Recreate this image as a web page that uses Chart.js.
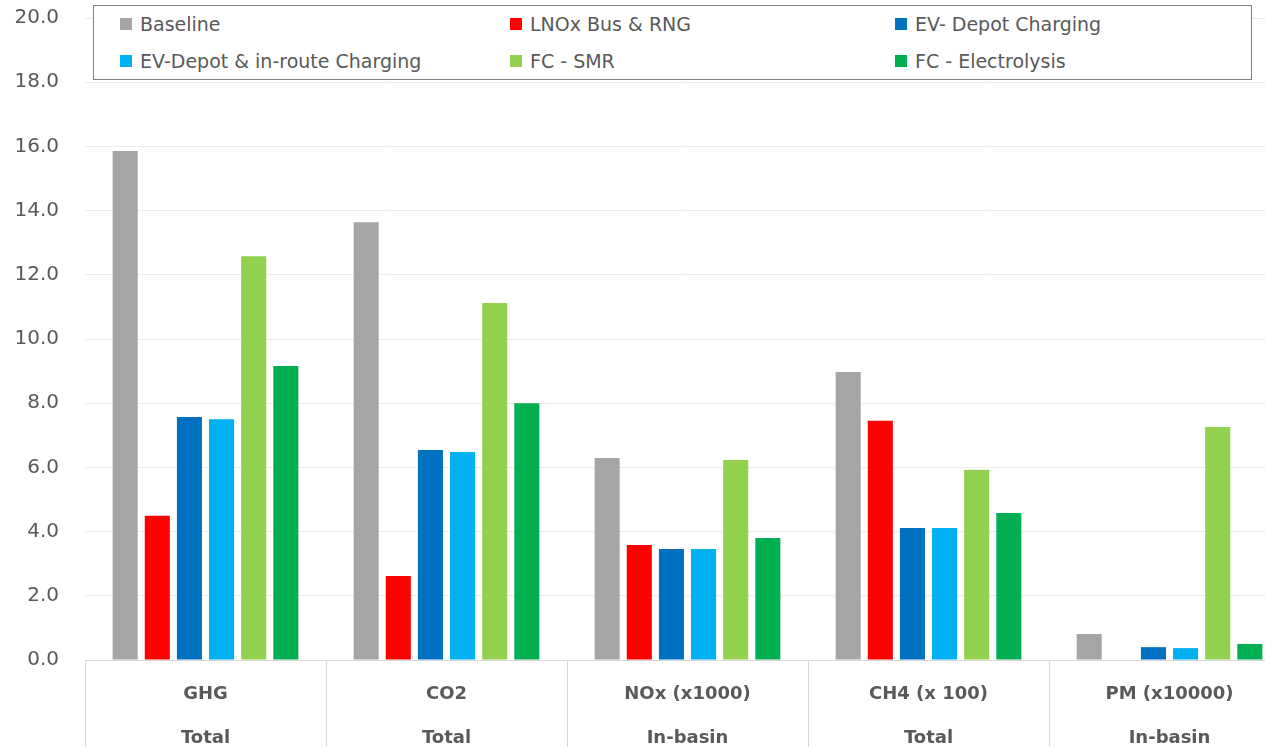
<!DOCTYPE html>
<html>
<head>
<meta charset="utf-8">
<script src="https://cdn.jsdelivr.net/npm/chart.js@4.4.1/dist/chart.umd.min.js"></script>
<style>
  body { margin: 0; overflow: hidden; background: #fff; }
  #wrap { position: relative; width: 1290px; height: 780px; }
  #legend {
    position: absolute; left: 93px; top: 5px; width: 1159px; height: 75px;
    border: 1.5px solid #808080; background: #fff;
    display: grid; grid-template-columns: 390px 385px 380px; grid-template-rows: 36px 38px;
    font-family: 'DejaVu Sans', sans-serif; font-size: 19px; color: #595959;
    padding-left: 26px; box-sizing: border-box; align-items: center;
  }
  #legend span.item { display: flex; align-items: center; white-space: nowrap; }
  #legend span.box { display: inline-block; width: 12px; height: 12px; margin-right: 8px; }
</style>
</head>
<body>
<div id="wrap">
  <canvas id="bar_chart"></canvas>
  <div id="legend"></div>
</div>
<script>
// กลุ่มข้อมูล (หมวดหมู่ 2 ระดับ)
const categories = ['GHG', 'CO2', 'NOx (x1000)', 'CH4 (x 100)', 'PM (x10000)'];
const subCategories = ['Total', 'Total', 'In-basin', 'Total', 'In-basin'];

const seriesNames = ['Baseline', 'LNOx Bus & RNG', 'EV- Depot Charging',
  'EV-Depot & in-route Charging', 'FC - SMR', 'FC - Electrolysis'];
const seriesColors = ['#a5a5a5', '#ff0000', '#0070c0', '#00b0f0', '#92d050', '#00b050'];

const baseline = [15.86, 13.64, 6.29, 8.97, 0.81];
const lnoxRng = [4.49, 2.62, 3.58, 7.45, 0];
const evDepot = [7.57, 6.54, 3.46, 4.11, 0.40];
const evInRoute = [7.50, 6.48, 3.46, 4.11, 0.37];
const fcSmr = [12.58, 11.12, 6.23, 5.93, 7.26];
const fcElectrolysis = [9.16, 8.00, 3.80, 4.58, 0.50];

const seriesValues = [baseline, lnoxRng, evDepot, evInRoute, fcSmr, fcElectrolysis];

const canvas = document.getElementById('bar_chart');
canvas.width = 1290;
canvas.height = 780;
const ctx = canvas.getContext('2d');

const bar_chart = new Chart(ctx, {
  type: 'bar',
  data: {
    labels: categories.map((c, i) => [c, subCategories[i]]),
    datasets: seriesNames.map((name, i) => ({
      label: name,
      data: seriesValues[i],
      backgroundColor: seriesColors[i],
      borderWidth: 0,
      categoryPercentage: 0.8,
      barPercentage: 0.78,
    }))
  },
  options: {
    responsive: false,
    animation: false,
    layout: { padding: 0 },
    plugins: {
      legend: { display: false },
      tooltip: { enabled: false },
    },
    scales: {
      x: {
        grid: {
          display: true,
          offset: true,
          drawOnChartArea: false,
          drawTicks: true,
          tickLength: 100,
          color: '#d9d9d9',
        },
        border: { display: true, color: '#d9d9d9', width: 1 },
        ticks: {
          padding: -88,
          color: '#595959',
          font: { family: "'DejaVu Sans', sans-serif", size: 18, weight: 'bold', lineHeight: 2.44 },
          maxRotation: 0,
          autoSkip: false,
        },
        afterFit: (scale) => { scale.height = 120; },
      },
      y: {
        min: 0,
        max: 20,
        ticks: {
          stepSize: 2,
          padding: 26,
          color: '#595959',
          font: { family: "'DejaVu Sans', sans-serif", size: 20 },
          callback: (v) => v.toFixed(1),
        },
        grid: { color: '#ececec', drawTicks: false },
        border: { display: false },
        afterFit: (scale) => {
          scale.width = 85;
          scale.paddingTop = 18; // ให้ 20.0 อยู่ชิดขอบบน
          scale.paddingBottom = 0;
        },
      }
    }
  }
});

// legend แบบ HTML เป็นตาราง 3 คอลัมน์
const legendEl = document.getElementById('legend');
bar_chart.data.datasets.forEach((ds) => {
  const item = document.createElement('span');
  item.className = 'item';
  const box = document.createElement('span');
  box.className = 'box';
  box.style.background = ds.backgroundColor;
  item.appendChild(box);
  item.appendChild(document.createTextNode(ds.label));
  legendEl.appendChild(item);
});
</script>
</body>
</html>
